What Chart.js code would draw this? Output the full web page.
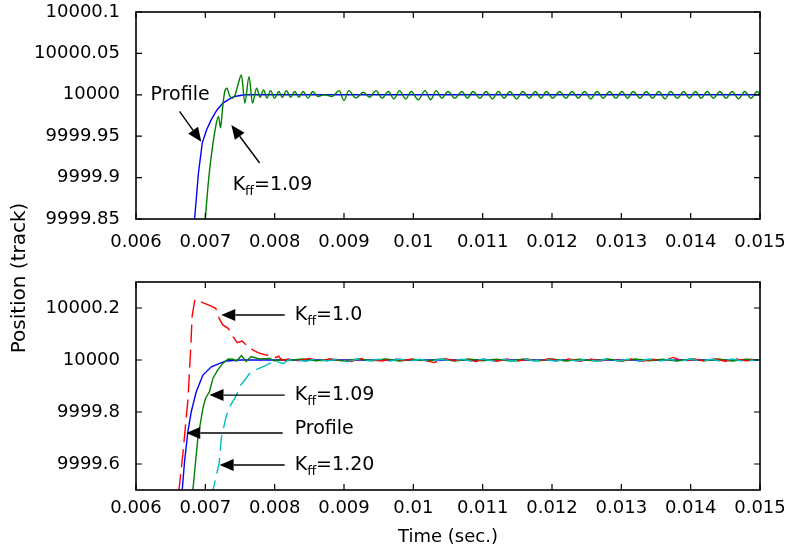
<!DOCTYPE html>
<html><head><meta charset="utf-8">
<script src="https://cdn.jsdelivr.net/npm/chart.js@4/dist/chart.umd.min.js"></script>
<style>
html,body{margin:0;padding:0;background:#fff;}
#wrap{position:relative;width:788px;height:552px;background:#fff;}
canvas{position:absolute;left:0;top:0;}
</style></head><body>
<div id="wrap"><canvas id="c1" width="788" height="552"></canvas><canvas id="c2" width="788" height="552"></canvas></div>
<script>
// ---------- tick labels ----------
const xTicks = [0.006, 0.007, 0.008, 0.009, 0.01, 0.011, 0.012, 0.013, 0.014, 0.015];
const topYTicks = [9999.85, 9999.9, 9999.95, 10000, 10000.05, 10000.1];
const botYTicks = [9999.6, 9999.8, 10000, 10000.2];

// ---------- top plot data ----------
const topProfileT = [0.00680, 0.006845, 0.00690, 0.006956, 0.00702, 0.007086, 0.00717, 0.007254, 0.00735, 0.00742, 0.00757, 0.01500];
const topProfileY = [9999.78, 9999.85, 9999.905, 9999.942, 9999.958, 9999.970, 9999.982, 9999.990, 9999.995, 9999.998, 10000.0, 10000.0];

const topKff109T = [0.00694, 0.00700, 0.00705, 0.00710, 0.00715, 0.00719, 0.00722, 0.00725, 0.00728, 0.00731,
  0.00735, 0.00739, 0.00743, 0.00747, 0.00752, 0.00757, 0.00763, 0.00768, 0.00774, 0.00779,
  0.00784, 0.00789, 0.00794, 0.00800, 0.00806, 0.00811, 0.00817, 0.00823, 0.00829, 0.00835,
  0.00841, 0.00848, 0.00855, 0.00862, 0.00872, 0.00883, 0.00893, 0.00900, 0.00907, 0.00917,
  0.00928, 0.00937, 0.00946, 0.00955, 0.00964, 0.00972, 0.00980, 0.00989, 0.00997, 0.01007,
  0.01017, 0.01025, 0.01033, 0.01041, 0.01050, 0.01060, 0.01070, 0.01078, 0.01086, 0.01096,
  0.01105, 0.01114, 0.01123, 0.01131, 0.01139, 0.01149, 0.01158, 0.01167, 0.01176, 0.01184,
  0.01192, 0.01201, 0.01211, 0.01220, 0.01229, 0.01238, 0.01247, 0.01256, 0.01265, 0.01274,
  0.01283, 0.01292, 0.01301, 0.01309, 0.01317, 0.01327, 0.01336, 0.01345, 0.01354, 0.01363,
  0.01371, 0.01381, 0.01390, 0.01398, 0.01407, 0.01415, 0.01424, 0.01433, 0.01442, 0.01451,
  0.01460, 0.01469, 0.01478, 0.01487, 0.01496, 0.01500];
const topKff109Y = [9999.78, 9999.85, 9999.90, 9999.935, 9999.962, 9999.974, 9999.960, 9999.985, 10000.004, 10000.008,
  9999.999, 9999.996, 10000.000, 10000.012, 10000.024, 9999.990, 10000.022, 9999.990, 10000.008, 9999.997,
  10000.006, 9999.996, 10000.005, 9999.996, 10000.004, 9999.997, 10000.005, 9999.997, 10000.004, 9999.997,
  10000.004, 9999.996, 10000.004, 9999.998, 10000.000, 9999.998, 10000.005, 9999.993, 10000.005, 9999.996,
  10000.003, 9999.997, 10000.005, 9999.996, 10000.004, 9999.995, 10000.005, 9999.995, 10000.004, 9999.994,
  10000.005, 9999.994, 10000.005, 9999.996, 10000.004, 9999.996, 10000.004, 9999.996, 10000.004, 9999.996,
  10000.004, 9999.995, 10000.004, 9999.996, 10000.004, 9999.995, 10000.004, 9999.996, 10000.004, 9999.996,
  10000.004, 9999.996, 10000.004, 9999.996, 10000.004, 9999.996, 10000.004, 9999.995, 10000.004, 9999.996,
  10000.004, 9999.996, 10000.004, 9999.996, 10000.004, 9999.996, 10000.004, 9999.996, 10000.004, 9999.995,
  10000.004, 9999.996, 10000.004, 9999.996, 10000.004, 9999.996, 10000.004, 9999.996, 10000.004, 9999.996,
  10000.004, 9999.995, 10000.004, 9999.996, 10000.004, 10000.000];

// ---------- bottom plot data ----------
const botProfileT = [0.00660, 0.006667, 0.00670, 0.006748, 0.006797, 0.006869, 0.006965, 0.007086, 0.007206, 0.00730, 0.00750, 0.01500];
const botProfileY = [9999.30, 9999.50, 9999.609, 9999.724, 9999.801, 9999.878, 9999.942, 9999.974, 9999.987, 9999.996, 10000.0, 10000.0];

const botKff109T = [0.00678, 0.00682, 0.006892, 0.006965, 0.007004, 0.00706, 0.00711, 0.00718, 0.00725, 0.00733,
  0.00740, 0.00745, 0.00752, 0.00759, 0.00766, 0.00778, 0.00793, 0.00800, 0.00810,
  0.00820, 0.00840, 0.00860, 0.00880, 0.00900, 0.00920, 0.00940, 0.00960, 0.00980, 0.01000,
  0.01020, 0.01040, 0.01060, 0.01080, 0.01100, 0.01120, 0.01140, 0.01160, 0.01180, 0.01200,
  0.01220, 0.01240, 0.01260, 0.01280, 0.01300, 0.01320, 0.01340, 0.01360, 0.01380, 0.01400,
  0.01420, 0.01440, 0.01460, 0.01480, 0.01500];
const botKff109Y = [9999.30, 9999.50, 9999.699, 9999.814, 9999.853, 9999.878, 9999.930, 9999.962, 9999.987, 10000.004,
  10000.003, 9999.996, 10000.017, 9999.994, 10000.013, 10000.004, 10000.006, 9999.996, 10000.003,
  9999.998, 10000.004, 9999.997, 10000.003, 9999.996, 10000.004, 9999.997, 10000.004, 9999.996, 10000.003,
  9999.997, 10000.004, 9999.996, 10000.004, 9999.997, 10000.003, 9999.996, 10000.004, 9999.997, 10000.004,
  9999.996, 10000.003, 9999.997, 10000.004, 9999.996, 10000.004, 9999.997, 10000.003, 9999.996, 10000.004,
  9999.997, 10000.004, 9999.996, 10000.003, 10000.000];

const botKff10T = [0.00658, 0.00662, 0.00668, 0.00675, 0.00679, 0.00681, 0.00685, 0.00689, 0.00697, 0.00706,
  0.00715, 0.00720, 0.00725, 0.00733, 0.00740, 0.00746, 0.00753, 0.00760, 0.00769, 0.00776,
  0.00788, 0.00796, 0.00802, 0.00806, 0.00810,
  0.00820, 0.00835, 0.00850, 0.00865, 0.00880, 0.00895, 0.00910, 0.00925, 0.00940, 0.00955,
  0.00970, 0.00985, 0.01000, 0.01015, 0.01030, 0.01045, 0.01060, 0.01075, 0.01090, 0.01105,
  0.01120, 0.01135, 0.01150, 0.01165, 0.01180, 0.01195, 0.01210, 0.01225, 0.01240, 0.01255,
  0.01270, 0.01285, 0.01300, 0.01315, 0.01330, 0.01345, 0.01360, 0.01375, 0.01390, 0.01405,
  0.01420, 0.01435, 0.01450, 0.01465, 0.01480, 0.01500];
const botKff10Y = [9999.30, 9999.50, 9999.65, 9999.85, 10000.05, 10000.17, 10000.233, 10000.228, 10000.220, 10000.210,
  10000.199, 10000.160, 10000.135, 10000.122, 10000.090, 10000.067, 10000.073, 10000.055, 10000.038, 10000.028,
  10000.019, 10000.016, 10000.010, 10000.015, 9999.998,
  10000.004, 9999.997, 10000.006, 9999.996, 10000.004, 10000.000, 9999.994, 10000.005, 10000.000, 9999.996,
  10000.006, 9999.998, 10000.004, 10000.000, 9999.990, 10000.005, 9999.998, 10000.004, 9999.994, 10000.005,
  9999.995, 10000.004, 9999.996, 10000.003, 9999.994, 10000.005, 9999.997, 10000.004, 9999.995, 10000.004,
  9999.996, 10000.005, 9999.996, 10000.004, 9999.995, 10000.003, 9999.996, 10000.010, 9999.994, 10000.004,
  9999.996, 10000.004, 9999.995, 10000.004, 9999.997, 10000.002];

const botKff120T = [0.00708, 0.00711, 0.00720, 0.00723, 0.00730, 0.00735, 0.00745, 0.00750, 0.00757, 0.00764,
  0.00775, 0.00786, 0.00800, 0.00812, 0.00820,
  0.00830, 0.00845, 0.00860, 0.00875, 0.00890, 0.00905, 0.00920, 0.00935, 0.00950, 0.00965,
  0.00980, 0.00995, 0.01010, 0.01025, 0.01040, 0.01055, 0.01070, 0.01085, 0.01100, 0.01115,
  0.01130, 0.01145, 0.01160, 0.01175, 0.01190, 0.01205, 0.01220, 0.01235, 0.01250, 0.01265,
  0.01280, 0.01295, 0.01310, 0.01325, 0.01340, 0.01355, 0.01370, 0.01385, 0.01400, 0.01415,
  0.01430, 0.01445, 0.01460, 0.01475, 0.01500];
const botKff120Y = [9999.30, 9999.50, 9999.603, 9999.700, 9999.782, 9999.820, 9999.865, 9999.900, 9999.923, 9999.949,
  9999.965, 9999.977, 9999.997, 9999.986, 10000.000,
  10000.000, 9999.995, 10000.004, 9999.996, 10000.003, 9999.994, 10000.004, 9999.997, 10000.003, 9999.995,
  10000.004, 9999.996, 10000.003, 9999.994, 10000.004, 9999.996, 10000.003, 9999.995, 10000.004, 9999.996,
  10000.003, 9999.995, 10000.004, 9999.996, 10000.003, 9999.995, 10000.004, 9999.996, 10000.003, 9999.995,
  10000.004, 9999.996, 10000.003, 9999.995, 10000.004, 9999.996, 10000.003, 9999.995, 10000.004, 9999.996,
  10000.003, 9999.995, 10000.004, 9999.996, 10000.000];

// ---------- helpers ----------
const FONT = '"DejaVu Sans", "Liberation Sans", Arial, sans-serif';
const TICK_SIZE = 18;
const zip = (t, y) => t.map((v, i) => ({x: v, y: y[i]}));
const fmt = v => String(parseFloat(Number(v).toFixed(4)));

function drawArrow(ctx, x1, y1, x2, y2) {
  const ang = Math.atan2(y2 - y1, x2 - x1);
  const hl = 14, hw = 6;
  const bx = x2 - hl * Math.cos(ang), by = y2 - hl * Math.sin(ang);
  ctx.beginPath(); ctx.moveTo(x1, y1); ctx.lineTo(bx, by); ctx.lineWidth = 1.4; ctx.stroke();
  ctx.beginPath();
  ctx.moveTo(x2, y2);
  ctx.lineTo(bx + hw * Math.sin(ang), by - hw * Math.cos(ang));
  ctx.lineTo(bx - hw * Math.sin(ang), by + hw * Math.cos(ang));
  ctx.closePath(); ctx.fill();
}

function framePlugin(annots, drawYTitle) {
  return {
    id: 'frame',
    afterDraw(chart) {
      const {ctx, chartArea: a} = chart;
      const xs = chart.scales.x, ys = chart.scales.y;
      ctx.save();
      ctx.strokeStyle = '#000'; ctx.fillStyle = '#000';
      ctx.lineWidth = 1.6;
      ctx.strokeRect(a.left, a.top, a.right - a.left, a.bottom - a.top);
      const L = 6;
      ctx.beginPath();
      xs.ticks.forEach(t => {
        const p = xs.getPixelForValue(t.value);
        ctx.moveTo(p, a.bottom); ctx.lineTo(p, a.bottom - L);
        ctx.moveTo(p, a.top); ctx.lineTo(p, a.top + L);
      });
      ys.ticks.forEach(t => {
        const p = ys.getPixelForValue(t.value);
        ctx.moveTo(a.left, p); ctx.lineTo(a.left + L, p);
        ctx.moveTo(a.right, p); ctx.lineTo(a.right - L, p);
      });
      ctx.lineWidth = 1.2; ctx.stroke();
      // annotations
      annots.forEach(an => {
        let px = xs.getPixelForValue(an.t), py = ys.getPixelForValue(an.v);
        ctx.textBaseline = 'middle'; ctx.textAlign = 'left';
        an.parts.forEach(([s, sub]) => {
          ctx.font = (sub ? 13 : 19) + 'px ' + FONT;
          ctx.fillText(s, px, py + (sub ? 7 : 0));
          px += ctx.measureText(s).width;
        });
        drawArrow(ctx, xs.getPixelForValue(an.from[0]), ys.getPixelForValue(an.from[1]),
                       xs.getPixelForValue(an.to[0]), ys.getPixelForValue(an.to[1]));
      });
      if (drawYTitle) {
        ctx.save();
        ctx.translate(20, 278); ctx.rotate(-Math.PI / 2);
        ctx.font = '20px ' + FONT; ctx.textAlign = 'center'; ctx.textBaseline = 'middle';
        ctx.fillText('Position (track)', 0, 0);
        ctx.restore();
      }
      ctx.restore();
    }
  };
}

function makeChart(id, datasets, yMin, yMax, yTicks, padTop, padBottom, xHeight, xPad, xTitle, annots, yTitle) {
  return new Chart(document.getElementById(id), {
    type: 'line',
    data: {datasets},
    options: {
      responsive: false, animation: false, devicePixelRatio: 1,
      layout: {padding: {top: padTop, bottom: padBottom, left: 0, right: 28}},
      plugins: {legend: {display: false}, tooltip: {enabled: false}},
      elements: {point: {radius: 0}},
      scales: {
        x: {
          type: 'linear', min: 0.006, max: 0.015,
          afterBuildTicks: s => { s.ticks = xTicks.map(v => ({value: v})); },
          afterFit: s => { s.height = xHeight; s.paddingLeft = 0; s.paddingRight = 0; },
          grid: {display: false}, border: {display: false},
          ticks: {color: '#000', font: {family: FONT, size: TICK_SIZE}, padding: xPad, maxRotation: 0, autoSkip: false, callback: v => fmt(v)},
          title: xTitle ? {display: true, text: xTitle, color: '#000', font: {family: FONT, size: TICK_SIZE}, padding: {top: 0, bottom: 4}} : {display: false}
        },
        y: {
          type: 'linear', min: yMin, max: yMax,
          afterBuildTicks: s => { s.ticks = yTicks.map(v => ({value: v})); },
          afterFit: s => { s.width = 136; s.paddingTop = 0; s.paddingBottom = 0; },
          grid: {display: false}, border: {display: false},
          ticks: {color: '#000', font: {family: FONT, size: TICK_SIZE}, padding: 8, autoSkip: false, callback: v => fmt(v)}
        }
      }
    },
    plugins: [framePlugin(annots, yTitle)]
  });
}

const lineBase = {pointRadius: 0, borderWidth: 1.4, fill: false};

makeChart('c1', [
  Object.assign({label: 'Kff=1.09', data: zip(topKff109T, topKff109Y), borderColor: '#008000', cubicInterpolationMode: 'monotone', order: 1}, lineBase),
  Object.assign({label: 'Profile', data: zip(topProfileT, topProfileY), borderColor: '#0000ff', order: 2}, lineBase)
], 9999.85, 10000.1, topYTicks, 12, 302, 31, 5, null, [
  {parts: [['Profile', 0]], t: 0.00621, v: 10000.0, from: [0.006628, 9999.980], to: [0.006942, 9999.9434]},
  {parts: [['K', 0], ['ff', 1], ['=1.09', 0]], t: 0.007394, v: 9999.891, from: [0.007783, 9999.9176], to: [0.007375, 9999.9635]}
], true);

makeChart('c2', [
  Object.assign({label: 'Kff=1.20', data: zip(botKff120T, botKff120Y), borderColor: '#00bfbf', borderDash: [16, 7], order: 1}, lineBase),
  Object.assign({label: 'Kff=1.0', data: zip(botKff10T, botKff10Y), borderColor: '#ff0000', borderDash: [18, 7], order: 2}, lineBase),
  Object.assign({label: 'Kff=1.09', data: zip(botKff109T, botKff109Y), borderColor: '#008000', order: 3}, lineBase),
  Object.assign({label: 'Profile', data: zip(botProfileT, botProfileY), borderColor: '#0000ff', order: 4}, lineBase)
], 9999.5, 10000.3, botYTicks, 282, 0, 62, 0, 'Time (sec.)', [
  {parts: [['K', 0], ['ff', 1], ['=1.0', 0]], t: 0.008289, v: 10000.173, from: [0.008144, 10000.173], to: [0.00723, 10000.173]},
  {parts: [['K', 0], ['ff', 1], ['=1.09', 0]], t: 0.008289, v: 9999.865, from: [0.008144, 9999.865], to: [0.00706, 9999.865]},
  {parts: [['Profile', 0]], t: 0.008289, v: 9999.735, from: [0.008116, 9999.719], to: [0.006725, 9999.719]},
  {parts: [['K', 0], ['ff', 1], ['=1.20', 0]], t: 0.008289, v: 9999.596, from: [0.008144, 9999.596], to: [0.007206, 9999.596]}
], false);
</script>
</body></html>
